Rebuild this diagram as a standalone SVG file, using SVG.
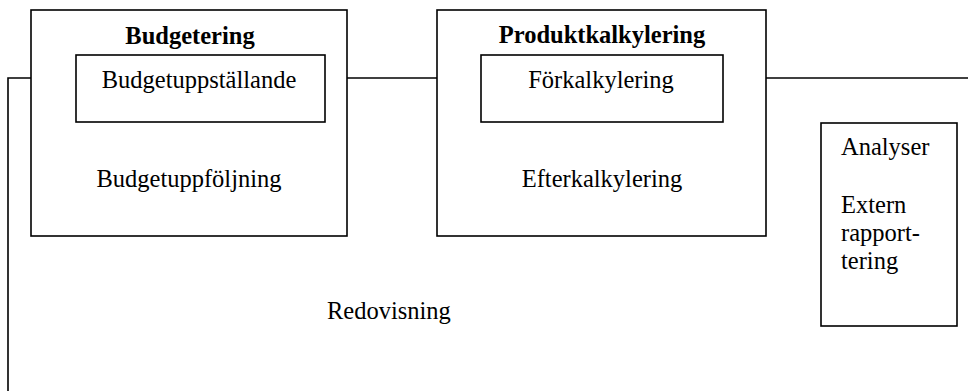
<svg xmlns="http://www.w3.org/2000/svg" width="968" height="391" viewBox="0 0 968 391">
<style>
.box{fill:#fff;stroke:#000;stroke-width:1.6}
.ln{fill:none;stroke:#000;stroke-width:1.6}
text{font-family:"Liberation Serif","Times New Roman",serif;font-size:24.5px;fill:#000}
.b{font-weight:bold}
.c{text-anchor:middle}
</style>
<rect width="968" height="391" fill="#fff"/>
<g id="connectors">
<polyline class="ln" points="31,78 8,78 8,391"/>
<line class="ln" x1="347" y1="78" x2="437" y2="78"/>
<line class="ln" x1="766" y1="78" x2="968" y2="78"/>
</g>
<g id="budgetering">
<rect class="box" x="31" y="10" width="316" height="226"/>
<text class="b c" x="190" y="44">Budgetering</text>
<text class="c" x="189" y="187">Budgetuppföljning</text>
</g>
<g id="budgetuppstallande">
<rect class="box" x="76" y="55" width="249" height="67"/>
<text class="c" x="199" y="88">Budgetuppställande</text>
</g>
<g id="produktkalkylering">
<rect class="box" x="437" y="10" width="329" height="226"/>
<text class="b c" x="602" y="43">Produktkalkylering</text>
<text class="c" x="602" y="187">Efterkalkylering</text>
</g>
<g id="forkalkylering">
<rect class="box" x="481" y="55" width="242" height="67"/>
<text class="c" x="601" y="88">Förkalkylering</text>
</g>
<g id="analyser">
<rect class="box" x="821" y="123" width="136" height="203"/>
<text x="841" y="155">Analyser</text>
<text x="841" y="213">Extern</text>
<text x="841" y="241">rapport-</text>
<text x="841" y="269">tering</text>
</g>
<g id="redovisning">
<text x="327" y="319">Redovisning</text>
</g>
</svg>
